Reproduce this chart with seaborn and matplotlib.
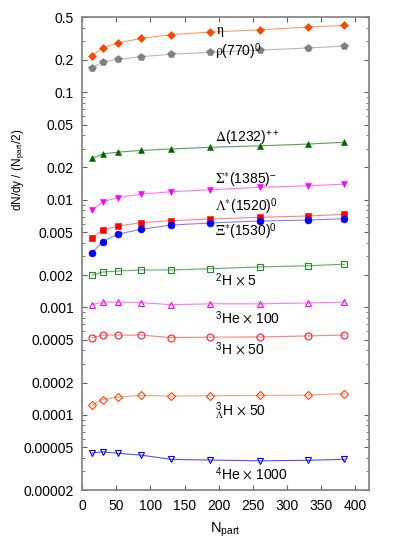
import numpy as np
import pandas as pd
import seaborn as sns
import matplotlib.pyplot as plt
from matplotlib.ticker import FixedLocator, FixedFormatter, LogLocator, NullFormatter

npart = [15, 30, 53, 86, 130, 187, 261, 330, 384]

eta = [0.217, 0.259, 0.288, 0.317, 0.343, 0.363, 0.381, 0.404, 0.419]
rho = [0.169, 0.191, 0.202, 0.214, 0.226, 0.235, 0.247, 0.258, 0.269]
delta = [0.0243, 0.0267, 0.0278, 0.0288, 0.0297, 0.0308, 0.0318, 0.0330, 0.0343]
sigma_star = [0.0080, 0.0096, 0.0105, 0.0113, 0.0119, 0.0124, 0.0131, 0.0135, 0.0140]
lambda_star = [0.00445, 0.00524, 0.00571, 0.00613, 0.00640, 0.00664, 0.00688, 0.00708, 0.00733]
xi_star = [0.00323, 0.00408, 0.00481, 0.00532, 0.00583, 0.00609, 0.00636, 0.00649, 0.00668]
deut = [0.00200, 0.00213, 0.00218, 0.00223, 0.00223, 0.00229, 0.00238, 0.00244, 0.00252]
he3 = [0.00106, 0.00112, 0.00112, 0.00111, 0.00106, 0.00108, 0.00108, 0.00110, 0.00112]
triton = [0.000522, 0.000553, 0.000553, 0.000553, 0.000525, 0.000529, 0.000532, 0.000543, 0.000554]
hyper = [0.000124, 0.000139, 0.000147, 0.000152, 0.000150, 0.000151, 0.000152, 0.000153, 0.000158]
he4 = [0.0000443, 0.0000455, 0.0000440, 0.0000424, 0.0000387, 0.0000381, 0.0000375, 0.0000379, 0.0000387]

# name, values, marker, marker colour, line colour, filled, label, label x, label y
series = [
    ('eta', eta, 'D', '#ff4500', '#ff9966', True, r'$\mathrm{\eta}$', 196, 0.36),
    ('rho', rho, 'p', '#808080', '#b8b8b8', True, r'$\mathrm{\rho}$(770)$^{\mathsf{0}}$', 195, 0.237),
    ('delta', delta, '^', '#006400', '#55a055', True, r'$\Delta$(1232)$^{\mathsf{++}}$', 195, 0.038),
    ('sigma', sigma_star, 'v', '#ff00ff', '#ff77ff', True, r'$\Sigma^{*}$(1385)$^{\mathsf{-}}$', 195, 0.0155),
    ('lambda', lambda_star, 's', '#ff0000', '#ff8080', True, r'$\Lambda^{*}$(1520)$^{\mathsf{0}}$', 195, 0.0086),
    ('xi', xi_star, 'o', '#0000ff', '#8080ff', True, r'$\Xi^{*}$(1530)$^{\mathsf{0}}$', 195, 0.0051),
    ('d', deut, 's', '#228b22', '#66aa66', False, r'$^{\mathsf{2}}$H $\times$ 5', 195, 0.00178),
    ('he3', he3, '^', '#ff00ff', '#ff77ff', False, r'$^{\mathsf{3}}$He $\times$ 100', 195, 0.00079),
    ('t', triton, 'o', '#ff2020', '#ff8080', False, r'$^{\mathsf{3}}$H $\times$ 50', 195, 0.00041),
    ('hyp', hyper, 'D', '#ff4500', '#ffa080', False, r'$^{\mathsf{3}}_{\Lambda}$H $\times$ 50', 195, 0.000108),
    ('he4', he4, 'v', '#0000ff', '#5050ff', False, r'$^{\mathsf{4}}$He $\times$ 1000', 195, 0.0000283),
]

plt.rcParams['font.family'] = ['Liberation Sans', 'DejaVu Sans']
plt.rcParams['mathtext.fontset'] = 'custom'
plt.rcParams['mathtext.rm'] = 'STIXGeneral'
plt.rcParams['mathtext.it'] = 'STIXGeneral:italic'
plt.rcParams['mathtext.bf'] = 'STIXGeneral:bold'
plt.rcParams['mathtext.sf'] = 'Liberation Sans'

fig = plt.figure(figsize=(3.95, 5.52), dpi=100)
ax = fig.add_axes([0.2076, 0.112, 0.7266, 0.857])

sizes = {'D': 4, 's': 4.5, 'o': 5, '^': 5, 'v': 5, 'p': 5.5}
for name, vals, mk, mc, lc, filled, label, lx, ly in series:
    df = pd.DataFrame({'npart': npart, 'val': vals})
    sns.lineplot(data=df, x='npart', y='val', ax=ax, color=lc, linewidth=0.8,
                 marker=mk, markersize=sizes[mk], markerfacecolor=mc if filled else 'none',
                 markeredgecolor=mc, markeredgewidth=0.8 if not filled else 0.4,
                 errorbar=None, zorder=3)
    ax.text(lx, ly, label, fontsize=10, va='center', ha='left', color='black')

ax.set_yscale('log')
ax.set_xlim(0, 420)
ax.set_ylim(0.00002, 0.5)

yt = [0.00002, 0.00005, 0.0001, 0.0002, 0.0005, 0.001, 0.002, 0.005, 0.01, 0.02, 0.05, 0.1, 0.2, 0.5]
ytl = ['0.00002', '0.00005', '0.0001', '0.0002', '0.0005', '0.001', '0.002', '0.005',
       '0.01', '0.02', '0.05', '0.1', '0.2', '0.5']
ax.yaxis.set_major_locator(FixedLocator(yt))
ax.yaxis.set_major_formatter(FixedFormatter(ytl))
ax.yaxis.set_minor_locator(LogLocator(base=10, subs=np.arange(2, 10)))
ax.yaxis.set_minor_formatter(NullFormatter())
ax.set_xticks(range(0, 401, 50))

ax.tick_params(axis='both', which='both', direction='in', right=True, top=True,
               labelsize=10, color='#606060', pad=6)
ax.tick_params(which='major', length=3.5)
ax.tick_params(which='minor', length=2)

for sp in ax.spines.values():
    sp.set_color('#808080')
    sp.set_linewidth(1.2)

ax.set_xlabel(r'N$_{\mathsf{part}}$', fontsize=10.5, labelpad=6)
ax.set_ylabel(r'dN/dy / (N$_{\mathsf{part}}$/2)', fontsize=8.5)
ax.yaxis.set_label_coords(-0.19, 0.677)

fig.savefig('out.png', dpi=100)
